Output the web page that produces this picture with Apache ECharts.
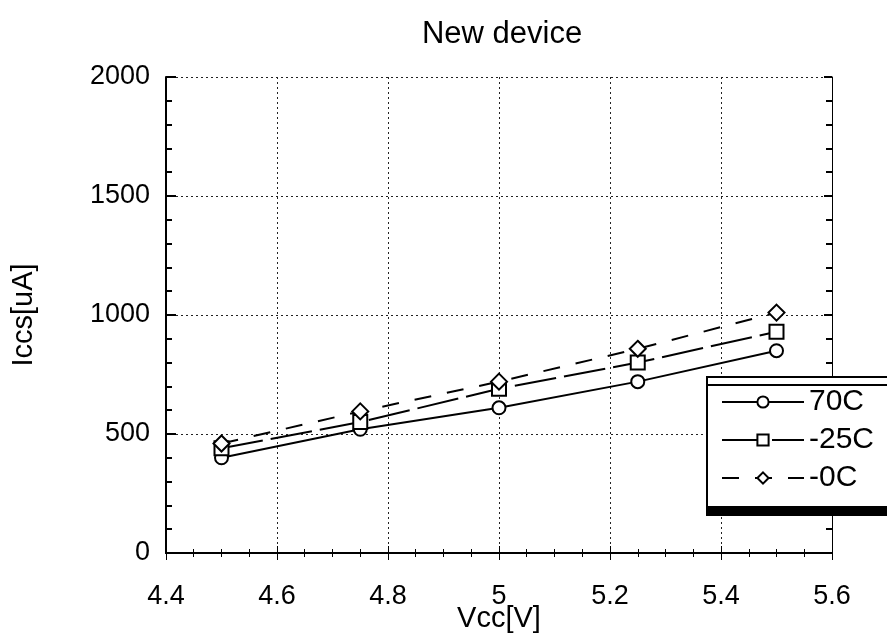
<!DOCTYPE html>
<html>
<head>
<meta charset="utf-8">
<title></title>
<script src="https://cdn.jsdelivr.net/npm/echarts@6/dist/echarts.min.js"></script>
</head>
<body style="margin:0">
<div id="container" style="width:887px;height:638px;"></div>
<script>
    // 读数据
    var vcc = [4.5, 4.75, 5.0, 5.25, 5.5];
    var i70 = [400, 520, 610, 720, 850];
    var i25 = [440, 550, 690, 800, 930];
    var i0 = [460, 595, 720, 858, 1010];
    var names = ['70C', '-25C', '-0C'];
    var xTicks = [4.4, 4.6, 4.8, 5, 5.2, 5.4, 5.6];
    var yTicks = [0, 500, 1000, 1500, 2000];

    function pairs(ys) {
        var out = [];
        for (let i = 0; i < vcc.length; i++) {
            out.push([vcc[i], ys[i]]);
        }
        return out;
    }

    var dom = document.getElementById('container');
    var myChart = echarts.init(dom, null, {renderer: 'canvas'});
    var font = 'Liberation Sans, Arial, sans-serif';
    var dotted = {show: true, lineStyle: {color: '#222', type: [2, 3], width: 1}};

    var option = {
        animation: false,
        backgroundColor: '#fff',
        title: {
            text: 'New device',
            left: 497,
            top: 14,
            textAlign: 'center',
            textStyle: {fontFamily: font, fontSize: 31, fontWeight: 'normal', color: '#000'}
        },
        legend: {
            data: names,
            orient: 'vertical',
            left: 707,
            top: 377,
            itemWidth: 82,
            itemHeight: 14,
            itemGap: 8,
            padding: [10, 60, 14, 14],
            backgroundColor: '#fff',
            borderColor: '#000',
            borderWidth: 2,
            shadowColor: '#000',
            shadowBlur: 0,
            shadowOffsetX: 0,
            shadowOffsetY: 8,
            textStyle: {fontFamily: font, fontSize: 30, color: '#000'}
        },
        grid: {left: 166, right: 55, top: 77, bottom: 85, outerBoundsMode: 'none', containLabel: false},
        xAxis: [{
            type: 'value',
            min: 4.4, max: 5.6, interval: 0.2,
            name: 'Vcc[V]',
            nameLocation: 'middle',
            nameGap: 51,
            nameMoveOverlap: false,
            nameTextStyle: {fontFamily: font, fontSize: 29, color: '#000'},
            axisLine: {lineStyle: {color: '#000', width: 2}},
            axisTick: {inside: true, length: 7, lineStyle: {color: '#000'}},
            minorTick: {show: true, splitNumber: 4, length: 4, lineStyle: {color: '#000'}},
            axisLabel: {
                fontFamily: font, fontSize: 27, color: '#000', margin: 30,
                formatter: function (v) { return xTicks.indexOf(+v.toFixed(1)) >= 0 ? String(+v.toFixed(1)) : ''; }
            },
            splitLine: dotted
        }, {
            type: 'value',
            position: 'top',
            min: 4.4, max: 5.6, interval: 0.2,
            axisLine: {show: true, lineStyle: {color: '#000', width: 2}},
            axisTick: {show: true, inside: true, length: 7, lineStyle: {color: '#000'}},
            minorTick: {show: true, splitNumber: 4, length: 4, lineStyle: {color: '#000'}},
            axisLabel: {show: false},
            splitLine: {show: false}
        }],
        yAxis: [{
            type: 'value',
            min: 0, max: 2000, interval: 500,
            name: 'Iccs[uA]',
            nameLocation: 'middle',
            nameRotate: 90,
            nameGap: 128,
            nameMoveOverlap: false,
            nameTextStyle: {fontFamily: font, fontSize: 29, color: '#000'},
            axisLine: {show: true, lineStyle: {color: '#000', width: 2}},
            axisTick: {show: true, inside: true, length: 10, lineStyle: {color: '#000', width: 2}},
            minorTick: {show: true, splitNumber: 5, length: 6, lineStyle: {color: '#000', width: 2}},
            axisLabel: {
                fontFamily: font, fontSize: 27, color: '#000', margin: 16,
                formatter: function (v) { return yTicks.indexOf(v) >= 0 ? String(v) : ''; }
            },
            splitLine: dotted
        }, {
            type: 'value',
            position: 'right',
            min: 0, max: 2000, interval: 500,
            axisLine: {show: true, lineStyle: {color: '#000', width: 1}},
            axisTick: {show: true, inside: true, length: 8, lineStyle: {color: '#000', width: 2}},
            minorTick: {show: true, splitNumber: 5, length: 6, lineStyle: {color: '#000', width: 2}},
            axisLabel: {show: false},
            splitLine: {show: false}
        }],
        series: [{
            name: names[0],
            type: 'line',
            data: pairs(i70),
            symbol: 'emptyCircle',
            symbolSize: 13,
            color: '#000',
            lineStyle: {color: '#000', width: 2, type: 'solid'},
            itemStyle: {color: '#000', borderWidth: 1.5}
        }, {
            name: names[1],
            type: 'line',
            data: pairs(i25),
            symbol: 'emptyRect',
            symbolSize: 14,
            color: '#000',
            lineStyle: {color: '#000', width: 2, type: [42, 8]},
            itemStyle: {color: '#000', borderWidth: 1.5}
        }, {
            name: names[2],
            type: 'line',
            data: pairs(i0),
            symbol: 'emptyDiamond',
            symbolSize: 16,
            color: '#000',
            lineStyle: {color: '#000', width: 2, type: [17, 16]},
            itemStyle: {color: '#000', borderWidth: 1.5}
        }]
    };
    if (option && typeof option === 'object') {
        myChart.setOption(option);
    }
</script>
</body>
</html>
